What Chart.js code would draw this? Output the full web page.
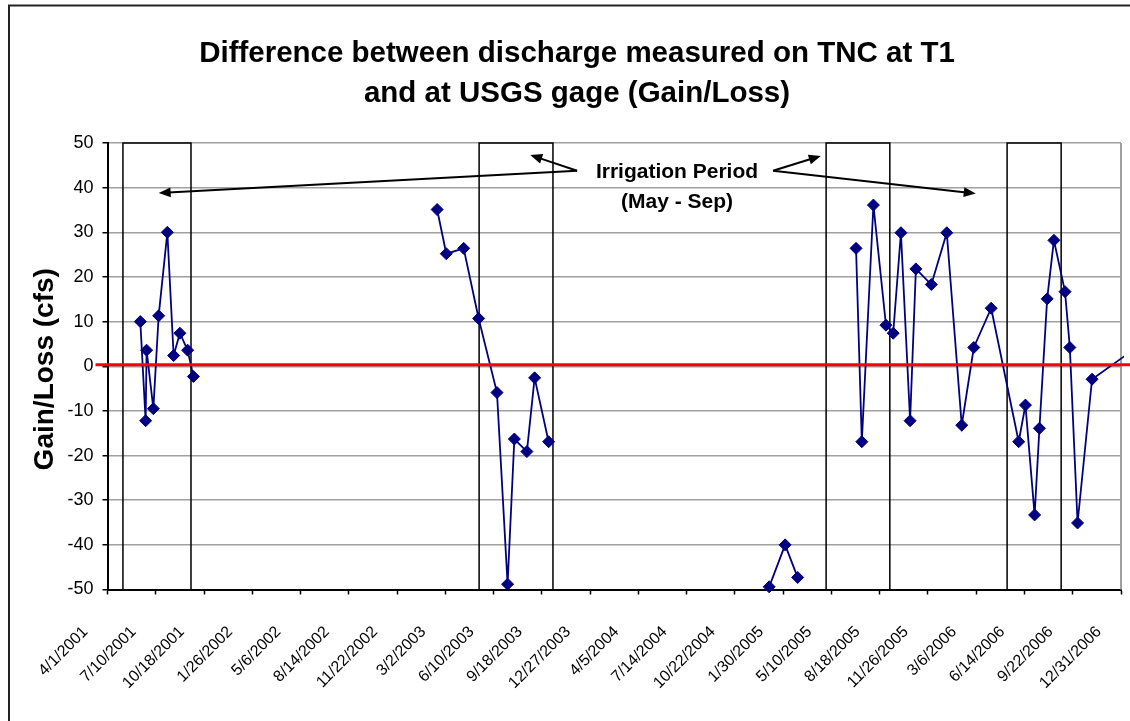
<!DOCTYPE html>
<html>
<head>
<meta charset="utf-8">
<title>Gain/Loss TNC T1 vs USGS gage</title>
<script src="https://cdn.jsdelivr.net/npm/chart.js@4.4.0/dist/chart.umd.min.js"></script>
<style>
  html, body { margin: 0; padding: 0; background: #fff; overflow: hidden; }
  #wrap { width: 1130px; height: 721px; overflow: hidden; }
</style>
</head>
<body>
<div id="wrap"><canvas id="gain-loss-chart" width="1154" height="740"></canvas></div>
<script>
// x axis labels, every 100 days
const tickLabels = [
    "4/1/2001", "7/10/2001", "10/18/2001", "1/26/2002", "5/6/2002", "8/14/2002",
    "11/22/2002", "3/2/2003", "6/10/2003", "9/18/2003", "12/27/2003", "4/5/2004",
    "7/14/2004", "10/22/2004", "1/30/2005", "5/10/2005", "8/18/2005", "11/26/2005",
    "3/6/2006", "6/14/2006", "9/22/2006", "12/31/2006",
];
const yMin = -50;
const yMax = 50;
const yStep = 10;

const titleLines = ["Difference between discharge measured on TNC at T1", "and at USGS gage (Gain/Loss)"];
const yTitle = "Gain/Loss (cfs)";

// measurements (cfs), one list per survey run
const survey2001Dates = ["6/8/2001", "6/19/2001", "6/21/2001", "7/5/2001", "7/16/2001",
    "8/3/2001", "8/16/2001", "8/29/2001", "9/14/2001", "9/26/2001"];
const survey2001Values = [10, -12.2, 3.6, -9.5, 11.3, 30, 2.4, 7.4, 3.6, -2.3];

const survey2003Dates = ["2/13/2003", "3/4/2003", "4/9/2003", "5/10/2003", "6/17/2003",
    "7/9/2003", "7/23/2003", "8/18/2003", "9/3/2003", "10/2/2003"];
const survey2003Values = [35.1, 25.2, 26.4, 10.7, -5.9, -48.8, -16.3, -19.1, -2.6, -16.9];

const winter2005Dates = ["1/1/2005", "2/3/2005", "3/1/2005"];
const winter2005Values = [-49.4, -40.0, -47.3];

const survey2005Dates = ["6/30/2005", "7/12/2005", "8/5/2005", "8/31/2005", "9/15/2005",
    "10/1/2005", "10/20/2005", "11/1/2005", "12/3/2005", "1/4/2006", "2/4/2006",
    "3/1/2006", "4/6/2006", "6/2/2006", "6/16/2006", "7/5/2006", "7/15/2006",
    "7/31/2006", "8/14/2006", "9/6/2006", "9/16/2006", "10/2/2006", "11/1/2006", "2/8/2007"];
const survey2005Values = [26.4, -16.9, 36.1, 9.2, 7.4, 29.9, -12.2, 21.8, 18.3, 29.9, -13.2,
    4.2, 13.0, -16.9, -8.7, -33.3, -13.9, 15.1, 28.2, 16.7, 4.2, -35.1, -2.9, 4.7];

// irrigation period boxes
const irrigationStarts = ["5/3/2001", "5/11/2003", "4/29/2005", "5/9/2006"];
const irrigationEnds = ["9/21/2001", "10/11/2003", "9/8/2005", "8/29/2006"];

// callout text and arrows (date, value)
const noteLines = ["Irrigation Period", "(May - Sep)"];
const noteDate = "6/24/2004";
const noteValues = [43.5, 36.8];
const arrowFrom = [["11/30/2003", 43.8], ["11/30/2003", 43.8], ["1/9/2005", 43.8], ["1/9/2005", 43.8]];
const arrowTo = [["7/16/2001", 38.8], ["8/25/2003", 47.3], ["4/18/2005", 47.1], ["3/5/2006", 38.7]];

const FONT = '"Liberation Sans", Arial, sans-serif';
const NAVY = "#000080";

const originMs = dateMs(tickLabels[0]);
function dateMs(s) {
    const [m, d, y] = s.split("/").map(Number);
    return Date.UTC(y, m - 1, d);
}
function toDay(s) {
    return (dateMs(s) - originMs) / 86400000;
}
function points(dates, values) {
    return dates.map((d, i) => ({ x: toDay(d), y: values[i] }));
}

const surveyDatasets = [
    [survey2001Dates, survey2001Values],
    [survey2003Dates, survey2003Values],
    [winter2005Dates, winter2005Values],
    [survey2005Dates, survey2005Values],
].map(([dates, values]) => ({
    data: points(dates, values),
    showLine: true,
    borderColor: NAVY,
    backgroundColor: NAVY,
    borderWidth: 1.8,
    pointStyle: "rectRot",
    pointRadius: 6,
    pointHoverRadius: 6,
    pointBorderWidth: 1,
    tension: 0,
    clip: { left: 10, top: 10, right: 3, bottom: 10 },
    order: 1,
}));

const boxDatasets = irrigationStarts.map((start, i) => ({
    data: [
        { x: toDay(start), y: yMin },
        { x: toDay(start), y: yMax },
        { x: toDay(irrigationEnds[i]), y: yMax },
        { x: toDay(irrigationEnds[i]), y: yMin },
    ],
    showLine: true,
    borderColor: "#000",
    borderWidth: 1.5,
    pointRadius: 0,
    pointHoverRadius: 0,
    clip: false,
    order: 2,
}));

function drawArrow(ctx, x0, y0, x1, y1) {
    const a = Math.atan2(y1 - y0, x1 - x0);
    const len = 12;
    const half = 5;
    const cos = Math.cos(a);
    const sin = Math.sin(a);
    ctx.beginPath();
    ctx.moveTo(x0, y0);
    ctx.lineTo(x1 - len * 0.8 * cos, y1 - len * 0.8 * sin);
    ctx.stroke();
    ctx.beginPath();
    ctx.moveTo(x1, y1);
    ctx.lineTo(x1 - len * cos + half * sin, y1 - len * sin - half * cos);
    ctx.lineTo(x1 - len * cos - half * sin, y1 - len * sin + half * cos);
    ctx.closePath();
    ctx.fill();
}

const decorations = {
    id: "decorations",
    beforeDraw(chart) {
        const { ctx, chartArea } = chart;
        ctx.save();
        ctx.fillStyle = "#fff";
        ctx.fillRect(0, 0, chart.width, chart.height);
        ctx.fillStyle = "#000";
        ctx.textAlign = "center";
        ctx.textBaseline = "middle";
        // two line title, centred on the full frame
        ctx.font = "bold 29.5px " + FONT;
        titleLines.forEach((line, i) => {
            ctx.fillText(line, chart.width / 2, 54 + i * 40);
        });
        // y axis title
        ctx.font = "bold 28px " + FONT;
        ctx.translate(45, (chartArea.top + chartArea.bottom) / 2 + 3);
        ctx.rotate(-Math.PI / 2);
        ctx.fillText(yTitle, 0, 0);
        ctx.restore();
    },
    beforeDatasetsDraw(chart) {
        const { ctx, chartArea } = chart;
        ctx.save();
        ctx.strokeStyle = "#a0a0a0";
        ctx.lineWidth = 2;
        ctx.beginPath();
        ctx.moveTo(chartArea.right, chartArea.top);
        ctx.lineTo(chartArea.right, chartArea.bottom);
        ctx.stroke();
        ctx.restore();
    },
    afterDatasetsDraw(chart) {
        const { ctx, chartArea, scales } = chart;
        const x = scales.x;
        const y = scales.y;
        ctx.save();
        // zero line
        const y0 = y.getPixelForValue(0) - 1.5;
        ctx.strokeStyle = "#ff0000";
        ctx.lineWidth = 3;
        ctx.beginPath();
        ctx.moveTo(chartArea.left - 12, y0);
        ctx.lineTo(chart.width, y0);
        ctx.stroke();

        // callout
        ctx.strokeStyle = "#000";
        ctx.fillStyle = "#000";
        ctx.lineWidth = 2;
        arrowFrom.forEach((from, i) => {
            drawArrow(ctx,
                x.getPixelForValue(toDay(from[0])), y.getPixelForValue(from[1]),
                x.getPixelForValue(toDay(arrowTo[i][0])), y.getPixelForValue(arrowTo[i][1]));
        });
        ctx.font = "bold 21px " + FONT;
        ctx.textAlign = "center";
        ctx.textBaseline = "middle";
        noteLines.forEach((line, i) => {
            ctx.fillText(line, x.getPixelForValue(toDay(noteDate)), y.getPixelForValue(noteValues[i]));
        });
        ctx.restore();
    },
    afterDraw(chart) {
        const ctx = chart.ctx;
        ctx.save();
        ctx.strokeStyle = "#222";
        ctx.lineWidth = 2;
        ctx.strokeRect(9, 5.5, chart.width - 18, chart.height - 11);
        ctx.restore();
    },
};

Chart.defaults.font.family = FONT;
Chart.defaults.color = "#000";

const gainLossChart = new Chart(document.getElementById("gain-loss-chart"), {
    type: "scatter",
    data: { datasets: [...surveyDatasets, ...boxDatasets] },
    options: {
        responsive: false,
        animation: false,
        devicePixelRatio: 1,
        events: [],
        layout: { padding: { left: 0, right: 33, top: 143, bottom: 0 } },
        plugins: {
            legend: { display: false },
            tooltip: { enabled: false },
            title: { display: false },
        },
        scales: {
            x: {
                type: "linear",
                min: toDay(tickLabels[0]),
                max: toDay(tickLabels[tickLabels.length - 1]),
                afterBuildTicks(scale) {
                    scale.ticks = tickLabels.map((label) => ({ value: toDay(label) }));
                },
                afterFit(scale) {
                    scale.height = 150.5;
                    scale.paddingLeft = 0;
                    scale.paddingRight = 0;
                },
                ticks: {
                    autoSkip: false,
                    minRotation: 45,
                    maxRotation: 45,
                    labelOffset: -22,
                    padding: 28,
                    color: "#000",
                    font: { size: 16 },
                    callback: (value, index) => tickLabels[index],
                },
                grid: {
                    drawOnChartArea: false,
                    drawTicks: true,
                    tickLength: 5,
                    tickColor: "#000",
                    tickWidth: 1.5,
                },
                border: { color: "#000", width: 2 },
            },
            y: {
                min: yMin,
                max: yMax,
                afterFit(scale) {
                    scale.width = 107.5;
                    scale.paddingTop = 0;
                    scale.paddingBottom = 0;
                },
                ticks: {
                    stepSize: yStep,
                    padding: 9,
                    color: "#000",
                    font: { size: 18 },
                },
                grid: {
                    color: "#a0a0a0",
                    lineWidth: 1.5,
                    drawTicks: true,
                    tickLength: 5,
                    tickColor: "#000",
                    tickWidth: 1.5,
                },
                border: { color: "#000", width: 2 },
            },
        },
    },
    plugins: [decorations],
});
</script>
</body>
</html>
